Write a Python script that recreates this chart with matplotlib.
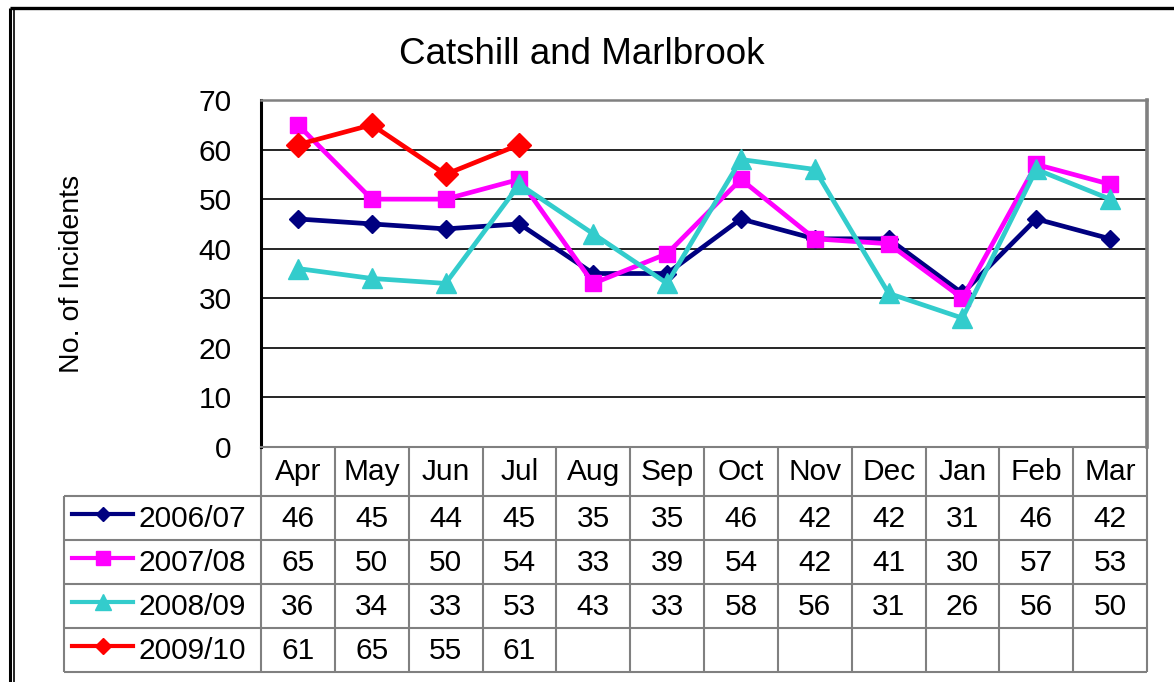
import matplotlib
matplotlib.use('Agg')
import matplotlib.pyplot as plt
import numpy as np

plt.rcParams['font.family'] = ['Liberation Sans', 'DejaVu Sans']

months = ['Apr', 'May', 'Jun', 'Jul', 'Aug', 'Sep', 'Oct', 'Nov', 'Dec', 'Jan', 'Feb', 'Mar']
series_names = ['2006/07', '2007/08', '2008/09', '2009/10']
v0607 = [46, 45, 44, 45, 35, 35, 46, 42, 42, 31, 46, 42]
v0708 = [65, 50, 50, 54, 33, 39, 54, 42, 41, 30, 57, 53]
v0809 = [36, 34, 33, 53, 43, 33, 58, 56, 31, 26, 56, 50]
v0910 = [61, 65, 55, 61]
yticks = [0, 10, 20, 30, 40, 50, 60, 70]

values = [v0607, v0708, v0809, v0910]
colors = ['#000080', '#FF00FF', '#33CCCC', '#FF0000']
markers = ['D', 's', '^', 'D']
msizes = [9, 11, 14, 12]
leg_ms = [7, 10, 11, 8]

W, H = 1174, 682
fig = plt.figure(figsize=(W / 100, H / 100), dpi=100)

# background overlay in pixel coordinates (frame, title, table)
bg = fig.add_axes([0, 0, 1, 1], zorder=0)
bg.set_xlim(0, W)
bg.set_ylim(H, 0)
bg.axis('off')

# outer double frame
bg.plot([10, 10], [8, H], color='black', lw=2.2, solid_capstyle='butt')
bg.plot([13.5, 13.5], [10, H], color='black', lw=1.2, solid_capstyle='butt')
bg.plot([10, W], [8, 8], color='black', lw=2.4, solid_capstyle='butt')

# plot area geometry (pixels)
px0, px1 = 261, 1147
py0, py1 = 100, 447
colw = (px1 - px0) / len(months)

ax = fig.add_axes([px0 / W, 1 - py1 / H, (px1 - px0) / W, (py1 - py0) / H], zorder=1)
x = np.arange(len(months))
for vals, c, m, ms in zip(values, colors, markers, msizes):
    ax.plot(x[:len(vals)], vals, color=c, lw=3.4, marker=m, ms=ms,
            markerfacecolor=c, markeredgecolor=c, zorder=3)
ax.set_xlim(-0.5, len(months) - 0.5)
ax.set_ylim(0, 70)
ax.set_yticks(yticks)
ax.set_xticks([])
for t in yticks[1:-1]:
    ax.axhline(t, color='black', lw=1.2, zorder=1)
ax.tick_params(axis='y', length=0, pad=21, labelsize=21.5)
for s in ['top', 'right', 'bottom']:
    ax.spines[s].set_color('#808080')
ax.spines['top'].set_linewidth(1.8)
ax.spines['right'].set_linewidth(2.6)
ax.spines['bottom'].set_linewidth(1.5)
ax.spines['left'].set_color('black')
ax.spines['left'].set_linewidth(2.2)
ax.set_ylabel('No. of Incidents', fontsize=20.5)
ax.yaxis.set_label_coords((85 - px0) / (px1 - px0), (py1 - 274) / (py1 - py0))

fig.text(582 / W, 1 - 55 / H, 'Catshill and Marlbrook', fontsize=26.5,
         ha='center', va='center')

# data table
gray = '#808080'
hdr_top, hdr_bot = 447, 496
row_h = 44
tx0 = 64
rows_y = [hdr_bot + i * row_h for i in range(len(series_names) + 1)]
tab_bot = rows_y[-1]

for i in range(len(months) + 1):
    xx = px0 + i * colw
    bg.plot([xx, xx], [hdr_top, tab_bot], color=gray, lw=1.5, solid_capstyle='butt')
bg.plot([tx0, tx0], [hdr_bot, tab_bot], color=gray, lw=1.5, solid_capstyle='butt')
for yy in rows_y:
    bg.plot([tx0, px1], [yy, yy], color=gray, lw=1.5, solid_capstyle='butt')

for i, mth in enumerate(months):
    bg.text(px0 + (i + 0.5) * colw, (hdr_top + hdr_bot) / 2 + 1, mth, fontsize=21.5,
            ha='center', va='center')

for r, (name, vals) in enumerate(zip(series_names, values)):
    yc = rows_y[r] + row_h / 2 + 1
    bg.plot([72, 103, 133], [yc - 5, yc - 5, yc - 5], color=colors[r], lw=3,
            marker=markers[r], ms=leg_ms[r], markevery=[1],
            markerfacecolor=colors[r], markeredgecolor=colors[r])
    bg.text(139, yc, name, fontsize=21.5, ha='left', va='center')
    for i, v in enumerate(vals):
        bg.text(px0 + (i + 0.5) * colw, yc, str(v), fontsize=21.5,
                ha='center', va='center')

fig.savefig('out.png', dpi=100)
